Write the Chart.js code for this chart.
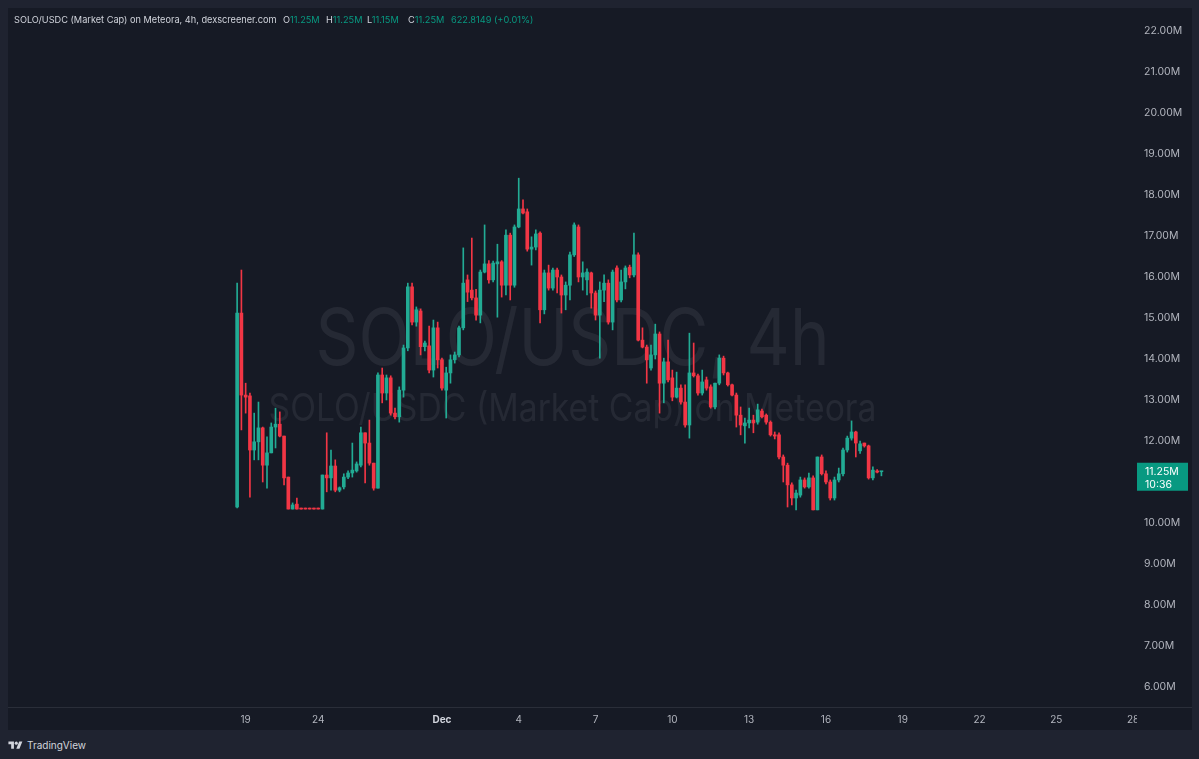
<!DOCTYPE html>
<html>
<head>
<meta charset="utf-8">
<script src="https://cdn.jsdelivr.net/npm/chart.js@4.4.1/dist/chart.umd.min.js"></script>
<style>
  html, body { margin: 0; padding: 0; width: 1199px; height: 759px; overflow: hidden; background: #1f2330; font-family: Inter, "Noto Sans", sans-serif; }
  #panel { position: absolute; left: 8px; top: 8px; width: 1184px; height: 722px; background: #161a25; }
  #chart { position: absolute; left: 0; top: 0; }
  .hdr { position: absolute; top: 14px; font-size: 9.2px; line-height: 12px; color: #d1d4dc; white-space: nowrap; }
  .g { color: #089981; }
  #footer { position: absolute; left: 8px; top: 739px; height: 12px; display: flex; align-items: center; gap: 4px; color: #d1d4dc; font-size: 10px; }
</style>
</head>
<body>
<div id="panel"><canvas id="chart" width="1184" height="722"></canvas></div>

<div class="hdr" style="left:14px">SOLO/USDC (Market Cap) on Meteora, 4h, dexscreener.com</div>
<div class="hdr" style="left:283px">O<span class="g">11.25M</span></div>
<div class="hdr" style="left:326px">H<span class="g">11.25M</span></div>
<div class="hdr" style="left:367px">L<span class="g">11.15M</span></div>
<div class="hdr" style="left:408px">C<span class="g">11.25M</span></div>
<div class="hdr g" style="left:451px">622.8149 (+0.01%)</div>

<div id="footer">
  <svg width="15" height="11" viewBox="0 0 36 28"><path d="M14 22H7V11H0V4h14v18zM28 22h-8l7.5-18h8L28 22z" fill="#d1d4dc"/><circle cx="20" cy="8" r="4" fill="#d1d4dc"/></svg>
  <span>TradingView</span>
</div>

<script>
// 4h candles, market cap in millions USD
const opens = [
  10.39, 15.12, 13.12, 13.10, 11.78, 11.98, 12.32, 11.41, 11.71, 12.34,
  12.41, 12.12, 11.12, 10.34, 10.46, 10.34, 10.34, 10.34, 10.34, 10.34,
  10.34, 11.17, 11.10, 11.39, 10.80, 10.88, 11.12, 11.22, 11.27, 11.41,
  12.20, 11.95, 11.46, 10.85, 13.61, 13.17, 13.54, 12.68, 12.59, 13.24,
  14.27, 15.76, 14.90, 15.17, 14.30, 14.32, 13.73, 14.76, 13.98, 13.24,
  13.66, 13.98, 14.10, 14.76, 15.93, 15.68, 15.49, 15.07, 16.12, 16.32,
  15.93, 16.32, 16.37, 15.80, 17.02, 15.80, 17.22, 17.66, 17.59, 16.68,
  16.73, 17.07, 15.20, 16.10, 15.73, 16.17, 16.00, 15.56, 15.80, 16.54,
  17.22, 16.00, 15.93, 16.10, 15.61, 15.07, 15.68, 15.85, 14.90, 16.22,
  15.44, 15.88, 16.24, 16.05, 16.54, 14.46, 14.29, 13.78, 14.10, 14.61,
  13.41, 13.93, 13.54, 13.07, 13.29, 12.95, 12.39, 13.66, 13.59, 13.17,
  13.49, 13.32, 12.83, 13.41, 14.02, 13.66, 13.37, 13.12, 12.63, 12.37,
  12.44, 12.51, 12.46, 12.73, 12.63, 12.46, 12.15, 12.15, 11.61, 11.41,
  10.93, 10.61, 10.68, 11.05, 10.88, 11.10, 10.32, 11.61, 11.20, 11.00,
  10.61, 11.05, 11.20, 11.78, 12.07, 12.22, 11.76, 11.95, 11.88, 11.10,
  11.27, 11.25
];
const highs = [
  15.85, 16.17, 13.41, 13.17, 12.68, 12.95, 12.34, 12.10, 12.44, 12.80,
  12.71, 12.12, 11.12, 10.49, 10.61, 10.34, 10.34, 10.34, 10.34, 10.34,
  11.17, 12.20, 11.78, 11.54, 10.88, 11.20, 11.27, 11.95, 11.49, 12.34,
  12.20, 12.51, 11.46, 13.66, 13.78, 13.61, 13.59, 12.80, 13.32, 14.34,
  15.85, 15.85, 15.27, 15.22, 14.44, 14.80, 14.95, 14.90, 14.02, 13.80,
  14.10, 14.17, 14.80, 16.71, 16.05, 16.95, 15.70, 16.17, 17.27, 16.40,
  16.39, 16.80, 16.40, 17.15, 17.07, 17.27, 18.41, 17.88, 17.66, 16.98,
  17.15, 17.10, 16.17, 16.29, 16.22, 16.22, 16.05, 15.88, 16.61, 17.32,
  17.27, 16.37, 16.20, 16.12, 15.66, 15.88, 16.05, 15.93, 16.17, 16.27,
  16.17, 16.27, 16.29, 17.07, 16.59, 14.76, 14.34, 14.34, 14.85, 14.66,
  14.02, 14.46, 13.73, 13.68, 13.37, 13.37, 14.63, 14.39, 13.63, 13.73,
  13.56, 13.37, 13.41, 14.10, 14.07, 13.68, 13.39, 13.17, 12.83, 12.56,
  12.80, 12.63, 12.90, 12.78, 12.66, 12.49, 12.22, 12.20, 11.66, 11.46,
  10.98, 10.80, 11.12, 11.10, 11.22, 11.15, 11.61, 11.66, 11.27, 11.05,
  11.12, 11.34, 11.83, 12.12, 12.49, 12.24, 12.00, 11.95, 11.90, 11.37,
  11.30, 11.25
];
const lows = [
  10.37, 12.27, 12.68, 10.63, 11.54, 11.54, 11.00, 10.85, 11.71, 11.83,
  12.10, 10.93, 10.34, 10.34, 10.34, 10.34, 10.34, 10.34, 10.34, 10.34,
  10.34, 10.76, 10.80, 10.76, 10.76, 10.83, 11.08, 11.12, 11.24, 11.37,
  10.98, 11.41, 10.80, 10.85, 12.93, 13.00, 12.63, 12.54, 12.46, 13.07,
  14.20, 14.83, 14.80, 14.10, 14.20, 13.66, 13.56, 13.78, 13.24, 12.56,
  13.41, 13.90, 14.05, 14.71, 15.40, 15.44, 14.95, 14.88, 16.10, 15.85,
  15.88, 15.02, 15.51, 15.56, 15.44, 15.75, 17.20, 17.54, 16.63, 16.29,
  16.66, 14.88, 15.10, 15.68, 15.68, 15.61, 15.12, 15.20, 15.44, 16.50,
  15.88, 15.68, 15.56, 15.24, 14.95, 14.02, 15.40, 14.85, 14.71, 15.39,
  15.39, 15.71, 15.98, 16.00, 14.44, 14.27, 13.41, 13.73, 14.00, 12.68,
  12.93, 13.44, 12.98, 13.05, 12.90, 12.34, 12.07, 13.56, 13.12, 13.12,
  13.24, 12.80, 12.78, 13.37, 13.61, 13.34, 13.10, 12.34, 12.15, 11.95,
  12.32, 12.20, 12.41, 12.56, 12.41, 12.12, 12.05, 11.56, 11.00, 10.39,
  10.44, 10.32, 10.63, 10.85, 10.85, 10.32, 10.32, 11.17, 10.95, 10.56,
  10.56, 11.00, 11.15, 11.73, 12.02, 11.61, 11.70, 11.85, 11.07, 11.05,
  11.22, 11.15
];
const closes = [
  15.12, 13.12, 13.07, 11.78, 11.98, 12.32, 11.41, 11.71, 12.34, 12.41,
  12.12, 11.10, 10.34, 10.44, 10.34, 10.34, 10.34, 10.34, 10.34, 10.34,
  11.17, 11.10, 11.39, 10.80, 10.86, 11.12, 11.22, 11.29, 11.44, 12.20,
  11.95, 11.46, 10.85, 13.61, 13.17, 13.54, 12.68, 12.59, 13.24, 14.27,
  15.76, 14.90, 15.20, 14.30, 14.39, 13.73, 14.76, 13.98, 13.29, 13.66,
  13.98, 14.10, 14.76, 15.85, 15.63, 15.49, 15.07, 16.12, 16.32, 15.93,
  16.34, 16.37, 15.80, 17.02, 15.80, 17.22, 17.66, 17.56, 16.68, 16.73,
  17.05, 15.20, 16.10, 15.73, 16.17, 16.00, 15.56, 15.80, 16.54, 17.27,
  16.00, 16.10, 16.12, 15.61, 15.07, 15.68, 15.85, 14.90, 16.12, 15.44,
  15.88, 16.22, 16.05, 16.54, 14.46, 14.29, 13.98, 14.10, 14.61, 13.41,
  13.93, 13.49, 13.07, 13.29, 12.95, 12.39, 13.66, 13.59, 13.17, 13.44,
  13.29, 12.83, 13.41, 14.02, 13.66, 13.37, 13.12, 12.63, 12.39, 12.44,
  12.51, 12.44, 12.76, 12.59, 12.46, 12.15, 12.12, 11.61, 11.41, 10.93,
  10.61, 10.73, 11.05, 10.88, 11.10, 10.32, 11.61, 11.20, 11.00, 10.61,
  11.05, 11.20, 11.78, 12.07, 12.22, 11.95, 11.93, 11.88, 11.10, 11.29,
  11.24, 11.25
];

// time axis: bar index of each date label
const tickIndex = [2, 19, 48, 66, 84, 102, 120, 138, 156, 174, 192, 210];
const tickText = ['19', '24', 'Dec', '4', '7', '10', '13', '16', '19', '22', '25', '28'];
const priceTicks = [6, 7, 8, 9, 10, 11, 12, 13, 14, 15, 16, 17, 18, 19, 20, 21, 22];
const lastPrice = 11.25;
const countdown = '10:36';

const upColor = '#22ab94';
const downColor = '#f23645';
const fontFamily = 'Inter, "Noto Sans", sans-serif';

const candleColors = closes.map((c, i) => {
    if (c > opens[i]) return upColor;
    if (c < opens[i]) return downColor;
    return i > 0 && c > closes[i - 1] ? upColor : downColor;
});

const bodies = closes.map((c, i) => ({ x: i, y: [Math.min(opens[i], c), Math.max(opens[i], c)] }));
const wicks = closes.map((c, i) => ({ x: i, y: [lows[i], highs[i]] }));

function fitText(ctx, text, x, y, size, width) {
    ctx.font = `${size}px ${fontFamily}`;
    const k = width / ctx.measureText(text).width;
    ctx.save();
    ctx.translate(x, y);
    ctx.scale(k, 1);
    ctx.fillText(text, 0, 0);
    ctx.restore();
}

// no automatic edge padding, the axes sit right at the panel edges
function noPad(s) {
    s.paddingTop = 0;
    s.paddingBottom = 0;
    s.paddingLeft = 0;
    s.paddingRight = 0;
}

// big faded symbol text behind the candles
const watermark = {
    id: 'watermark',
    beforeDatasetsDraw(chart) {
        const { ctx, chartArea } = chart;
        const cx = (chartArea.left + chartArea.right) / 2;
        ctx.save();
        ctx.fillStyle = 'rgba(178,181,190,0.1)';
        ctx.textAlign = 'center';
        ctx.textBaseline = 'alphabetic';
        fitText(ctx, 'SOLO/USDC, 4h', cx, 357, 78, 514);
        fitText(ctx, 'SOLO/USDC (Market Cap) on Meteora', cx, 413, 38, 608);
        ctx.restore();
    }
};

// last price tag + axis separator
const priceTag = {
    id: 'priceTag',
    afterDraw(chart) {
        const { ctx, chartArea, scales } = chart;
        ctx.save();
        ctx.fillStyle = '#161a25';
        ctx.fillRect(chartArea.right, chartArea.bottom + 1, chart.width - chartArea.right, chart.height - chartArea.bottom);
        ctx.strokeStyle = '#2a2e39';
        ctx.lineWidth = 1;
        ctx.beginPath();
        ctx.moveTo(0, chartArea.bottom + 0.5);
        ctx.lineTo(chart.width, chartArea.bottom + 0.5);
        ctx.stroke();

        const y = scales.y.getPixelForValue(lastPrice);
        ctx.fillStyle = '#089981';
        ctx.fillRect(chartArea.right, y - 9, 51, 28);
        ctx.fillStyle = '#ffffff';
        ctx.font = `10.5px ${fontFamily}`;
        ctx.textAlign = 'left';
        ctx.textBaseline = 'middle';
        ctx.fillText(lastPrice.toFixed(2) + 'M', chartArea.right + 8, y);
        ctx.fillText(countdown, chartArea.right + 8, y + 13);
        ctx.restore();
    }
};

const ctx = document.getElementById('chart').getContext('2d');
const myChart = new Chart(ctx, {
    type: 'bar',
    data: {
        datasets: [
            {
                label: 'body',
                data: bodies,
                backgroundColor: candleColors,
                barThickness: 3,
                minBarLength: 1,
                grouped: false,
                order: 0
            },
            {
                label: 'wick',
                data: wicks,
                backgroundColor: candleColors,
                barThickness: 1,
                minBarLength: 1,
                grouped: false,
                order: 1
            }
        ]
    },
    options: {
        responsive: false,
        animation: false,
        layout: { padding: 0 },
        plugins: {
            legend: { display: false },
            tooltip: { enabled: false }
        },
        scales: {
            x: {
                type: 'linear',
                min: -53.7,
                max: 210.9,
                offset: false,
                grid: { display: false, drawTicks: false },
                border: { display: false },
                afterBuildTicks: s => { s.ticks = tickIndex.map(v => ({ value: v })); },
                afterFit: s => { s.height = 23; noPad(s); },
                ticks: {
                    autoSkip: false,
                    maxRotation: 0,
                    padding: 7,
                    color: c => (c.tick && c.tick.value === 48 ? '#d1d4dc' : '#b2b5be'),
                    font: c => ({ size: 10, family: fontFamily, weight: c.tick && c.tick.value === 48 ? 'bold' : 'normal' }),
                    callback: v => tickText[tickIndex.indexOf(v)]
                }
            },
            y: {
                position: 'right',
                min: 5.512,
                max: 22.561,
                grid: { display: false, drawTicks: false },
                border: { display: false },
                afterBuildTicks: s => { s.ticks = priceTicks.map(v => ({ value: v })); },
                afterFit: s => { s.width = 55; noPad(s); },
                ticks: {
                    padding: 7,
                    color: '#b2b5be',
                    font: { size: 10.5, family: fontFamily },
                    callback: v => v.toFixed(2) + 'M'
                }
            }
        }
    },
    plugins: [watermark, priceTag]
});
</script>
</body>
</html>
